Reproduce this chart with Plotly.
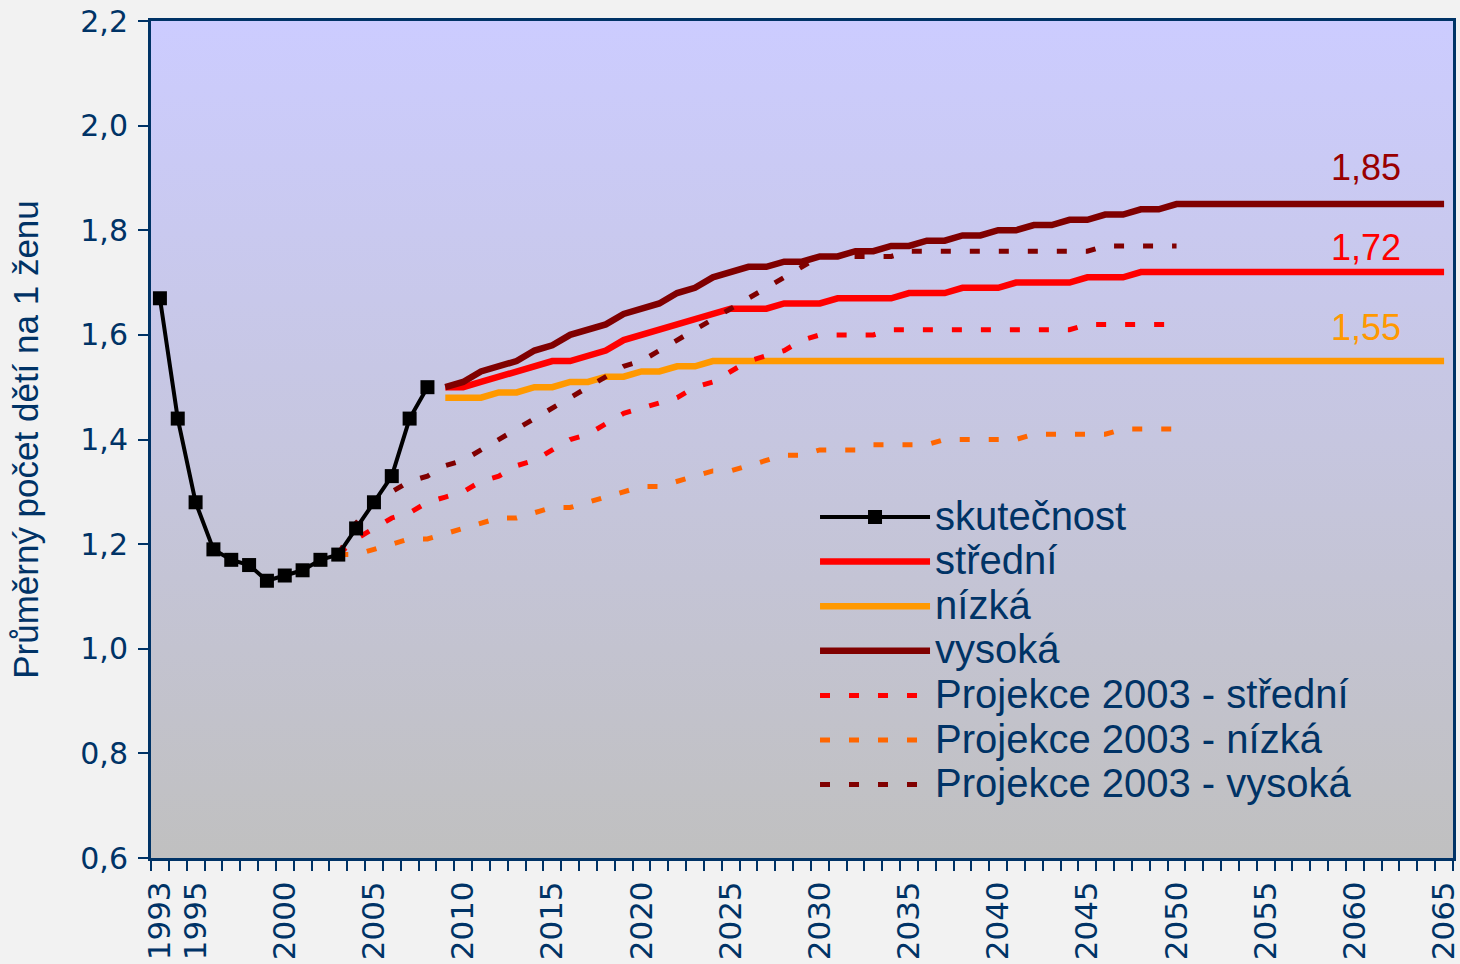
import plotly.graph_objects as go

# ---------------- data ----------------
actual_years = list(range(1993, 2009))
actual = [1.67, 1.44, 1.28, 1.19, 1.17, 1.16, 1.13, 1.14, 1.15, 1.17, 1.18, 1.23, 1.28, 1.33, 1.44, 1.50]

proj_years = list(range(2009, 2066))
stredni = [1.50, 1.50, 1.51, 1.52, 1.53, 1.54, 1.55, 1.55, 1.56, 1.57,
           1.59, 1.60, 1.61, 1.62, 1.63, 1.64, 1.65, 1.65, 1.65, 1.66,
           1.66, 1.66, 1.67, 1.67, 1.67, 1.67, 1.68, 1.68, 1.68, 1.69,
           1.69, 1.69, 1.70, 1.70, 1.70, 1.70, 1.71, 1.71, 1.71, 1.72,
           1.72, 1.72, 1.72, 1.72, 1.72, 1.72, 1.72, 1.72, 1.72, 1.72,
           1.72, 1.72, 1.72, 1.72, 1.72, 1.72, 1.72]
nizka = [1.48, 1.48, 1.48, 1.49, 1.49, 1.50, 1.50, 1.51, 1.51, 1.52,
         1.52, 1.53, 1.53, 1.54, 1.54, 1.55, 1.55, 1.55, 1.55, 1.55,
         1.55, 1.55, 1.55, 1.55, 1.55, 1.55, 1.55, 1.55, 1.55, 1.55,
         1.55, 1.55, 1.55, 1.55, 1.55, 1.55, 1.55, 1.55, 1.55, 1.55,
         1.55, 1.55, 1.55, 1.55, 1.55, 1.55, 1.55, 1.55, 1.55, 1.55,
         1.55, 1.55, 1.55, 1.55, 1.55, 1.55, 1.55]
vysoka = [1.50, 1.51, 1.53, 1.54, 1.55, 1.57, 1.58, 1.60, 1.61, 1.62,
          1.64, 1.65, 1.66, 1.68, 1.69, 1.71, 1.72, 1.73, 1.73, 1.74,
          1.74, 1.75, 1.75, 1.76, 1.76, 1.77, 1.77, 1.78, 1.78, 1.79,
          1.79, 1.80, 1.80, 1.81, 1.81, 1.82, 1.82, 1.83, 1.83, 1.84,
          1.84, 1.85, 1.85, 1.85, 1.85, 1.85, 1.85, 1.85, 1.85, 1.85,
          1.85, 1.85, 1.85, 1.85, 1.85, 1.85, 1.85]

p2003_years = list(range(2003, 2051))
p2003_stredni = [1.18, 1.21, 1.23, 1.25, 1.26, 1.28, 1.29, 1.30, 1.32, 1.33,
                 1.35, 1.36, 1.38, 1.40, 1.41, 1.43, 1.45, 1.46, 1.47, 1.48,
                 1.50, 1.51, 1.53, 1.55, 1.56, 1.57, 1.59, 1.60, 1.60, 1.60,
                 1.60, 1.61, 1.61, 1.61, 1.61, 1.61, 1.61, 1.61, 1.61, 1.61,
                 1.61, 1.61, 1.62, 1.62, 1.62, 1.62, 1.62, 1.62]
p2003_nizka = [1.18, 1.18, 1.19, 1.20, 1.21, 1.21, 1.22, 1.23, 1.24, 1.25,
               1.25, 1.26, 1.27, 1.27, 1.28, 1.29, 1.30, 1.31, 1.31, 1.32,
               1.33, 1.34, 1.34, 1.35, 1.36, 1.37, 1.37, 1.38, 1.38, 1.38,
               1.39, 1.39, 1.39, 1.39, 1.40, 1.40, 1.40, 1.40, 1.40, 1.41,
               1.41, 1.41, 1.41, 1.41, 1.42, 1.42, 1.42, 1.42]
p2003_vysoka = [1.18, 1.24, 1.28, 1.30, 1.32, 1.33, 1.35, 1.36, 1.38, 1.40,
                1.42, 1.44, 1.46, 1.48, 1.50, 1.52, 1.54, 1.55, 1.57, 1.59,
                1.61, 1.63, 1.65, 1.67, 1.69, 1.71, 1.73, 1.75, 1.75, 1.75,
                1.75, 1.75, 1.76, 1.76, 1.76, 1.76, 1.76, 1.76, 1.76, 1.76,
                1.76, 1.76, 1.76, 1.77, 1.77, 1.77, 1.77, 1.77]

tick_years = [1993, 1995, 2000, 2005, 2010, 2015, 2020, 2025, 2030, 2035,
              2040, 2045, 2050, 2055, 2060, 2065]
y_ticks = [0.6, 0.8, 1.0, 1.2, 1.4, 1.6, 1.8, 2.0, 2.2]
end_labels = ["1,85", "1,72", "1,55"]

# ---------------- styling ----------------
NAVY = "#003366"
C_STR = "#FF0000"
C_NIZ = "#FF9900"
C_VYS = "#800000"
C_PNIZ = "#FF6600"
X_RANGE = [1992.5, 2065.5]
Y_RANGE = [0.6, 2.2]
FONT = "Liberation Sans, Arial, sans-serif"
TICKFONT = "DejaVu Sans, Verdana, sans-serif"
DASH = "10px,19px"


def big(name):
    return '<span style="font-size:40px">' + name + '</span>'


fig = go.Figure()

# plot-area gradient background
fig.add_trace(go.Scatter(
    x=[X_RANGE[0], X_RANGE[1], X_RANGE[1], X_RANGE[0], X_RANGE[0]],
    y=[Y_RANGE[0], Y_RANGE[0], Y_RANGE[1], Y_RANGE[1], Y_RANGE[0]],
    mode="lines", line=dict(width=0), fill="toself",
    fillgradient=dict(type="vertical", start=Y_RANGE[0], stop=Y_RANGE[1],
                      colorscale=[[0, "#C0C0C0"], [1, "#CCCCFF"]]),
    hoverinfo="skip", showlegend=False))

# solid projections
fig.add_trace(go.Scatter(x=proj_years, y=nizka, name=big("nízká"), mode="lines",
                         line=dict(color=C_NIZ, width=6.5), legendrank=3))
fig.add_trace(go.Scatter(x=proj_years, y=stredni, name=big("střední"), mode="lines",
                         line=dict(color=C_STR, width=6.5), legendrank=2))
fig.add_trace(go.Scatter(x=proj_years, y=vysoka, name=big("vysoká"), mode="lines",
                         line=dict(color=C_VYS, width=6.5), legendrank=4))

# 2003 projections (dotted)
fig.add_trace(go.Scatter(x=p2003_years, y=p2003_stredni, name=big("Projekce 2003 - střední"),
                         mode="lines", line=dict(color=C_STR, width=5, dash=DASH), legendrank=5))
fig.add_trace(go.Scatter(x=p2003_years, y=p2003_nizka, name=big("Projekce 2003 - nízká"),
                         mode="lines", line=dict(color=C_PNIZ, width=5, dash=DASH), legendrank=6))
fig.add_trace(go.Scatter(x=p2003_years, y=p2003_vysoka, name=big("Projekce 2003 - vysoká"),
                         mode="lines", line=dict(color=C_VYS, width=5, dash=DASH), legendrank=7))

# actual values
fig.add_trace(go.Scatter(x=actual_years, y=actual, name=big("skutečnost"), mode="lines+markers",
                         line=dict(color="#000000", width=4),
                         marker=dict(symbol="square", size=14, color="#000000"),
                         legendrank=1))

# end labels
for txt, series, col, shift in zip(end_labels, [vysoka, stredni, nizka],
                                   ["#990000", C_STR, C_NIZ], [37, 25, 34]):
    fig.add_annotation(x=2060.6, y=series[-1], text=txt, showarrow=False,
                       yshift=shift, font=dict(family=FONT, size=36, color=col))

fig.update_xaxes(range=X_RANGE, tickmode="array", tickvals=tick_years,
                 ticktext=[str(t) for t in tick_years], tickangle=-90,
                 ticks="", showgrid=False, zeroline=False, automargin=False,
                 showline=True, linecolor=NAVY, linewidth=3, mirror=True,
                 ticklabelstandoff=8, ticklabeloverflow="allow",
                 tickfont=dict(family=TICKFONT, size=31, color=NAVY),
                 minor=dict(ticks="outside", ticklen=10, tickwidth=2, tickcolor=NAVY,
                            tickmode="linear", tick0=1992.5, dtick=1, showgrid=False))
fig.update_yaxes(range=Y_RANGE, tickmode="array", tickvals=y_ticks, tickformat=".1f",
                 ticks="outside", ticklen=10, tickwidth=2, tickcolor=NAVY,
                 showgrid=False, zeroline=False, automargin=False,
                 showline=True, linecolor=NAVY, linewidth=3, mirror=True,
                 ticklabelstandoff=4, ticklabeloverflow="allow",
                 tickfont=dict(family=TICKFONT, size=30, color=NAVY),
                 title=dict(text="Průměrný počet dětí na 1 ženu", standoff=32,
                            font=dict(family=FONT, size=35, color=NAVY)))

fig.update_layout(
    width=1460, height=964,
    margin=dict(l=151, r=7, t=21, b=106),
    paper_bgcolor="#F2F2F2", plot_bgcolor="#C6C6E6",
    separators=", ",
    showlegend=True,
    legend=dict(x=0.510, y=0.44, xanchor="left", yanchor="top",
                bgcolor="rgba(0,0,0,0)", itemwidth=110, tracegroupgap=0,
                font=dict(family=FONT, size=32, color=NAVY)),
)

fig.write_html("out.html", config={"displayModeBar": False},
               post_script="document.body.style.margin='0';")
